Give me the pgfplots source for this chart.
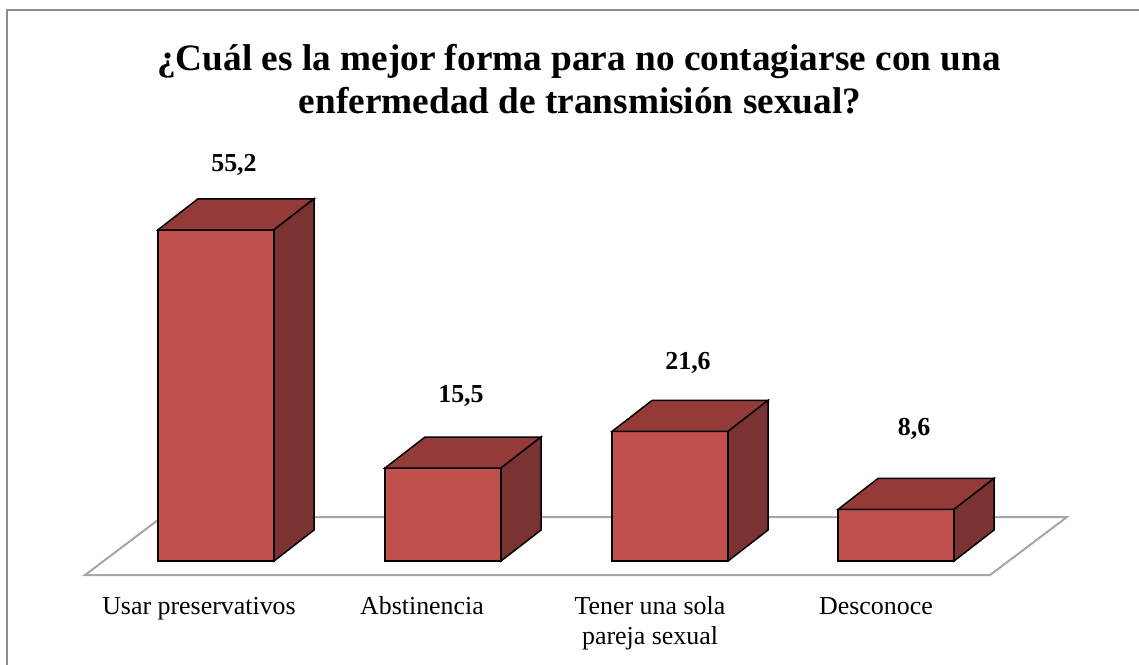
\documentclass[border=0pt]{standalone}
\usepackage{pgfplots}
\usepackage{pgfplotstable}
\pgfplotsset{compat=1.18}
\usepackage{fontspec}
\setmainfont{Liberation Serif}
\definecolor{frontc}{HTML}{C0504D}
\definecolor{topc}{HTML}{943B39}
\definecolor{sidec}{HTML}{7B3331}
\definecolor{floorc}{HTML}{A6A6A6}
\definecolor{framec}{HTML}{8C8C8C}
\pgfplotstableread{
x y off
216 55.2 32.5
443 15.5 36
670 21.6 34
896 8.6 40.5
}\datatable
\begin{document}
\begin{tikzpicture}
\begin{axis}[
  x=0.5bp, y=3bp,
  xmin=0, xmax=1139, ymin=-17.1667, ymax=93.5,
  hide axis, clip=false,
  /pgf/number format/.cd, use comma, fixed, precision=1, fixed zerofill, assume math mode=true,
]
\coordinate (bl) at (axis cs:0,-17.1667);
\coordinate (tr) at (axis cs:1139,93.5);
% frame
\addplot[draw=framec, line width=1bp, mark=none] coordinates {(7,-20) (7,91.83) (1150,91.83)};
% floor
\addplot[draw=floorc, fill=white, line width=1bp, mark=none] coordinates {(85,-2.333) (990,-2.333) (1067,7.333) (162,7.333)} -- cycle;
% front faces
\addplot[ybar, bar width=116, fill=frontc, draw=black, line width=0.75bp,
  visualization depends on={\thisrow{off} \as \off},
  nodes near coords,
  nodes near coords style={font=\bfseries\fontsize{13}{15}\selectfont, anchor=center, yshift=\off bp, xshift=9bp, text=black}]
  table[x=x, y=y] {\datatable};
% top faces
\addplot[fill=topc, draw=black, line width=0.75bp, mark=none] coordinates {(158,55.2) (274,55.2) (314,60.367) (198,60.367)} -- cycle;
\addplot[fill=topc, draw=black, line width=0.75bp, mark=none] coordinates {(385,15.5) (501,15.5) (541,20.667) (425,20.667)} -- cycle;
\addplot[fill=topc, draw=black, line width=0.75bp, mark=none] coordinates {(612,21.6) (728,21.6) (768,26.767) (652,26.767)} -- cycle;
\addplot[fill=topc, draw=black, line width=0.75bp, mark=none] coordinates {(838,8.6) (954,8.6) (994,13.767) (878,13.767)} -- cycle;
% side faces
\addplot[fill=sidec, draw=black, line width=0.75bp, mark=none] coordinates {(274,0) (274,55.2) (314,60.367) (314,5.167)} -- cycle;
\addplot[fill=sidec, draw=black, line width=0.75bp, mark=none] coordinates {(501,0) (501,15.5) (541,20.667) (541,5.167)} -- cycle;
\addplot[fill=sidec, draw=black, line width=0.75bp, mark=none] coordinates {(728,0) (728,21.6) (768,26.767) (768,5.167)} -- cycle;
\addplot[fill=sidec, draw=black, line width=0.75bp, mark=none] coordinates {(954,0) (954,8.6) (994,13.767) (994,5.167)} -- cycle;
% title
\node[font=\bfseries\fontsize{18.7}{21}\selectfont, anchor=base] at (axis cs:579,81.667) {¿Cuál es la mejor forma para no contagiarse con una};
\node[font=\bfseries\fontsize{18.7}{21}\selectfont, anchor=base] at (axis cs:580,74.667) {enfermedad de transmisión sexual?};
% category labels
\node[font=\fontsize{13}{15}\selectfont, anchor=base] at (axis cs:199,-8.833) {Usar preservativos};
\node[font=\fontsize{13}{15}\selectfont, anchor=base] at (axis cs:422,-8.833) {Abstinencia};
\node[font=\fontsize{13}{15}\selectfont, anchor=base] at (axis cs:650,-8.833) {Tener una sola};
\node[font=\fontsize{13}{15}\selectfont, anchor=base] at (axis cs:650,-13.833) {pareja sexual};
\node[font=\fontsize{13}{15}\selectfont, anchor=base] at (axis cs:876,-8.833) {Desconoce};
\end{axis}
\pgfresetboundingbox
\useasboundingbox (bl) rectangle (tr);
\end{tikzpicture}
\end{document}
